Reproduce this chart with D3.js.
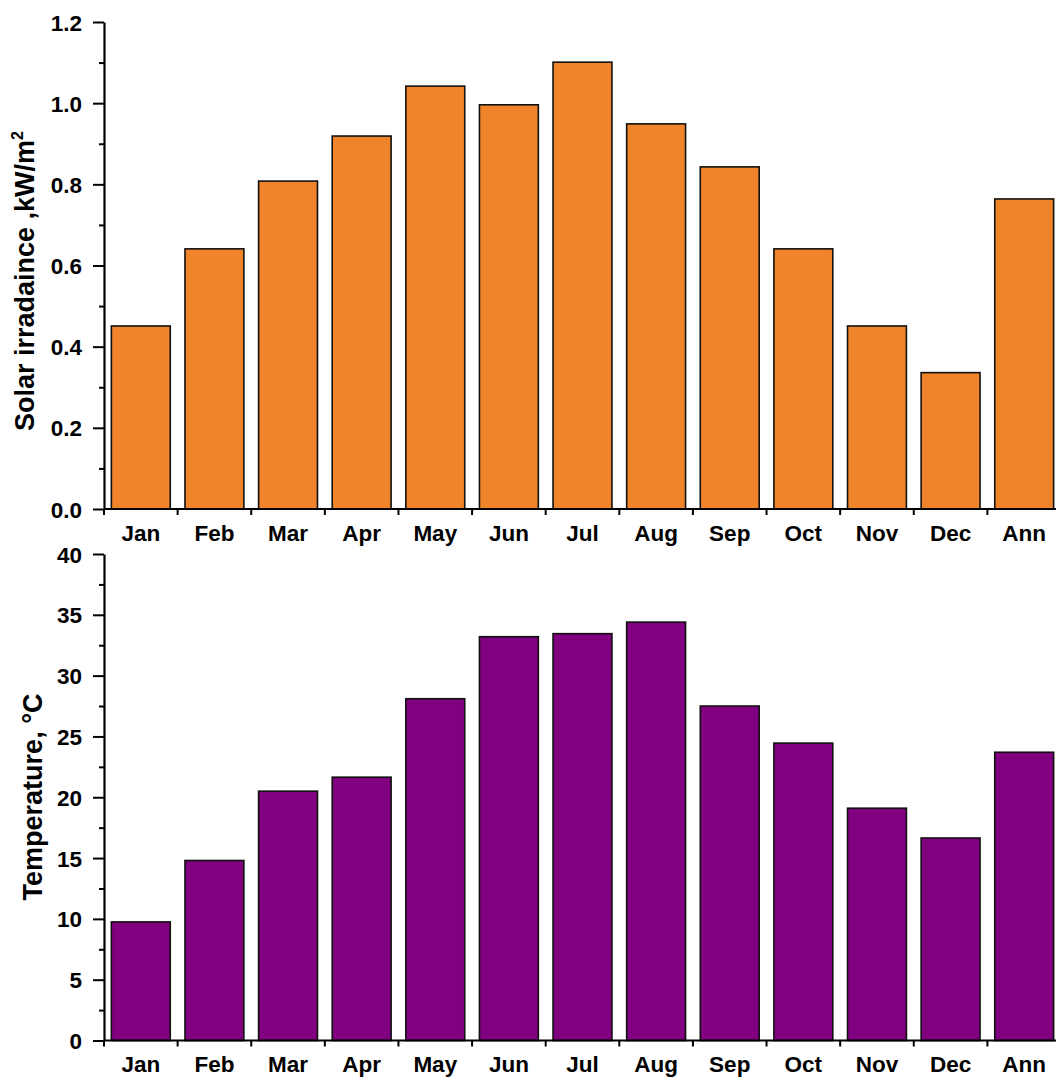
<!DOCTYPE html>
<html>
<head>
<meta charset="utf-8">
<script src="https://cdn.jsdelivr.net/npm/d3@7"></script>
<style>
  html, body { margin: 0; padding: 0; background: #fff; }
  svg text { font-family: "Liberation Sans", Arial, sans-serif; font-weight: bold; fill: #000; }
</style>
</head>
<body>
<svg id="chart" width="1056" height="1080"></svg>
<script>
// Monthly categories, with the annual mean as the last bar
const months = ["Jan", "Feb", "Mar", "Apr", "May", "Jun", "Jul", "Aug", "Sep", "Oct", "Nov", "Dec", "Ann"];

// Solar irradiance, kW/m²
const irradiance = [0.451, 0.641, 0.808, 0.919, 1.042, 0.996, 1.101, 0.949, 0.843, 0.641, 0.451, 0.336, 0.764];

// Air temperature, °C
const temperature = [9.75, 14.8, 20.5, 21.65, 28.1, 33.2, 33.45, 34.4, 27.5, 24.45, 19.1, 16.65, 23.7];

// Axis ticks
const irrMajor = [0, 0.2, 0.4, 0.6, 0.8, 1.0, 1.2];
const irrMinor = [0.1, 0.3, 0.5, 0.7, 0.9, 1.1];
const tempMajor = [0, 5, 10, 15, 20, 25, 30, 35, 40];
const tempMinor = [2.5, 7.5, 12.5, 17.5, 22.5, 27.5, 32.5, 37.5];

const svg = d3.select("#chart");
const tickFont = 22.5;

const x = d3.scaleBand()
  .domain(months)
  .range([104, 1061])
  .paddingInner(0.2)
  .paddingOuter(0.1);

function panel(opts) {
  const g = svg.append("g");
  const y = d3.scaleLinear().domain(opts.domain).range([opts.y0, opts.y1]);

  // bars
  g.append("g").selectAll("rect")
    .data(opts.values)
    .join("rect")
    .attr("x", (d, i) => x(months[i]))
    .attr("width", x.bandwidth())
    .attr("y", d => y(d))
    .attr("height", d => y(0) - y(d))
    .attr("fill", opts.color)
    .attr("stroke", "#111")
    .attr("stroke-width", 1.6);

  // minor y ticks
  g.append("g")
    .attr("transform", "translate(104,0)")
    .call(d3.axisLeft(y).tickValues(opts.minor).tickSize(5).tickFormat(""))
    .call(a => a.select(".domain").remove())
    .call(a => a.selectAll("line").attr("stroke-width", 2));

  // major y ticks with labels
  g.append("g")
    .attr("transform", "translate(104,0)")
    .call(d3.axisLeft(y).tickValues(opts.major).tickSize(11).tickPadding(11).tickSizeOuter(0).tickFormat(opts.format))
    .call(a => a.select(".domain").attr("stroke-width", 2.2))
    .call(a => a.selectAll("line").attr("stroke-width", 2))
    .call(a => a.selectAll("text").attr("font-size", tickFont).attr("dy", "0.36em"));

  // x axis: labels at band centres
  const xa = g.append("g")
    .attr("transform", `translate(0,${opts.y0})`)
    .call(d3.axisBottom(x).tickSize(0).tickPadding(opts.labelPad).tickSizeOuter(0));
  xa.select(".domain").attr("stroke-width", 2.2).attr("d", `M104,0H1061`);
  xa.selectAll("text").attr("font-size", tickFont);

  // x ticks at band boundaries
  const bounds = d3.range(months.length + 1).map(i => 104 + i * x.step());
  g.append("g").selectAll("line")
    .data(bounds)
    .join("line")
    .attr("x1", d => d).attr("x2", d => d)
    .attr("y1", opts.y0).attr("y2", opts.y0 + 6)
    .attr("stroke", "#000").attr("stroke-width", 2);

  return { g, y };
}

panel({
  values: irradiance, domain: [0, 1.2], y0: 509, y1: 22,
  major: irrMajor, minor: irrMinor, format: d3.format(".1f"),
  color: "#EF842A", labelPad: 16.5
});

panel({
  values: temperature, domain: [0, 40], y0: 1040.5, y1: 554,
  major: tempMajor, minor: tempMinor, format: d3.format("d"),
  color: "#800080", labelPad: 16
});

// y axis titles
const t1 = svg.append("text")
  .attr("transform", "translate(34,281) rotate(-90)")
  .attr("text-anchor", "middle")
  .attr("font-size", 27);
t1.append("tspan").text("Solar irradaince ,kW/m");
t1.append("tspan").attr("dy", -11).attr("font-size", 16).text("2");

svg.append("text")
  .attr("transform", "translate(42,797) rotate(-90)")
  .attr("text-anchor", "middle")
  .attr("font-size", 27)
  .text("Temperature, °C");
</script>
</body>
</html>
